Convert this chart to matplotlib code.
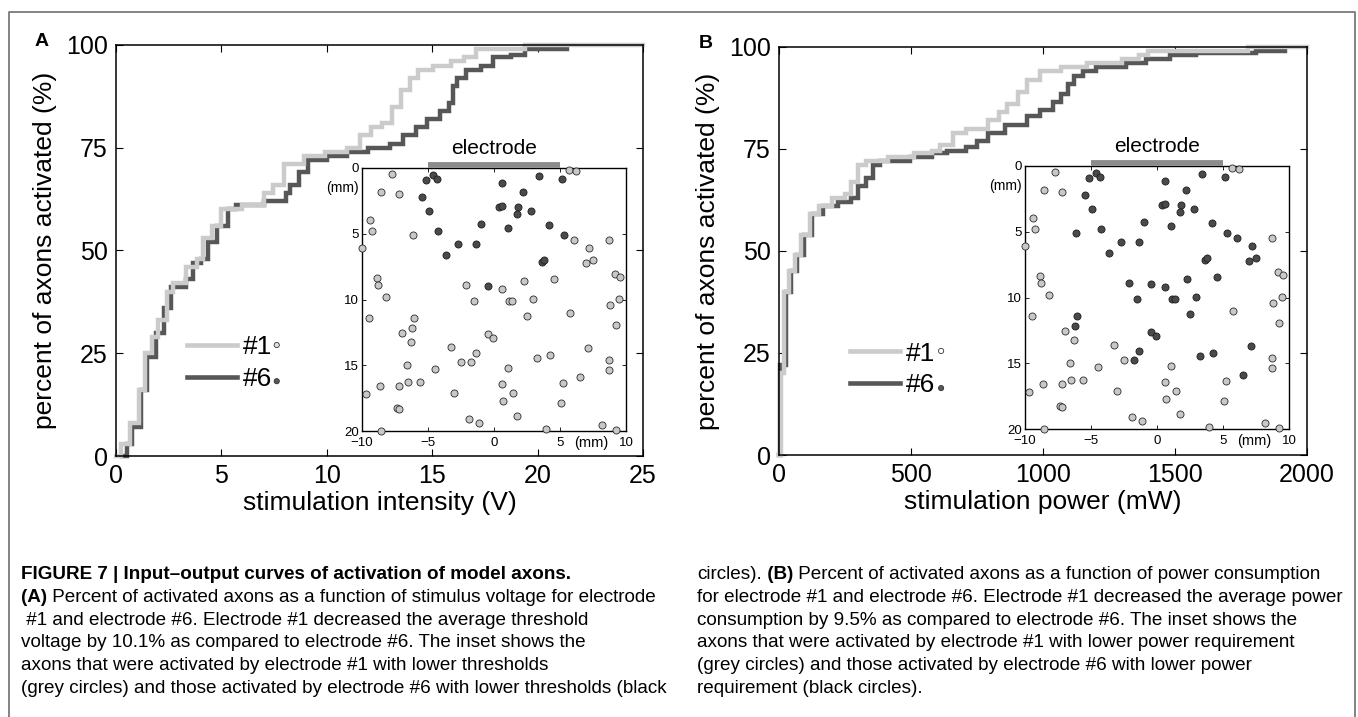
import numpy as np
import matplotlib.pyplot as plt
from matplotlib.lines import Line2D

# ---- data ----
# panel A: % axons activated vs stimulation intensity (V)
volt_e1 = [0.0, 0.25, 0.66, 1.07, 1.38, 1.69, 2.0, 2.4, 2.7, 3.33, 3.85, 4.15, 4.57, 4.98,
           6.0, 7.0, 7.45, 7.96, 8.9, 9.9, 10.95, 11.56, 12.08, 12.6, 13.1, 13.5, 13.93,
           14.34, 15.06, 15.9, 16.5, 17.1, 19.4, 25.0]
pct_volt_e1 = [0, 3, 8, 16, 25, 29, 33, 40, 42, 46, 48, 53, 56, 60,
               61, 64, 66, 71, 73, 74, 75, 78, 80, 81, 85, 89, 92,
               94, 95, 96, 97, 99, 100, 100]
volt_e6 = [0.3, 0.5, 0.76, 1.17, 1.48, 1.89, 2.3, 2.6, 3.33, 3.64, 4.05, 4.36, 4.77, 5.29,
           5.7, 7.04, 8.07, 8.27, 8.7, 9.1, 10.0, 10.95, 11.97, 13.0, 13.6, 14.24, 14.75,
           15.37, 15.78, 15.99, 16.19, 16.6, 17.3, 17.9, 18.75, 19.4, 21.4]
pct_volt_e6 = [0, 3, 7, 16, 24, 30, 36, 41, 43, 47, 48, 52, 56, 60,
               61, 62, 64, 66, 69, 72, 73, 74, 75, 76, 78, 80, 82,
               84, 86, 90, 92, 94, 95, 97, 97.5, 99, 99]

# panel B: % axons activated vs stimulation power (mW)
power_e1 = [0, 6, 20, 36, 61, 85, 118, 151, 200, 249, 274, 299, 331, 413, 512, 578, 610,
            660, 709, 791, 832, 865, 906, 938, 988, 1070, 1168, 1299, 1365, 1398, 1775, 2000]
pct_power_e1 = [0, 20, 40, 45, 49, 54, 59, 61, 63, 64, 67, 71, 72, 73, 74, 74.5, 76,
                79, 80, 82, 84, 86, 89, 92, 94, 95, 96, 97, 98, 99, 100, 100]
power_e6 = [0, 5, 28, 44, 69, 94, 126, 167, 225, 274, 299, 331, 356, 381, 495, 578, 635,
            709, 750, 791, 856, 938, 988, 1037, 1070, 1094, 1119, 1152, 1201, 1316, 1390,
            1480, 1578, 1808, 1915]
pct_power_e6 = [0, 22, 40, 45, 49, 54, 59, 61, 62, 63, 66, 68, 71, 72, 73, 74, 74.5,
                75.5, 77, 79, 81, 83, 84.5, 86.5, 88.5, 91, 93, 94, 95, 96, 97,
                98, 98.5, 99, 99]

# axon positions in the insets (mm), same in both panels
axon_x = [-7.70, -5.12, -4.61, -4.31, -8.53, -7.22, -5.45, -4.92, 0.64, 2.16, 3.43, 5.17,
          5.65, 6.23, 0.37, 0.59, 1.83, 1.71, 2.84, -9.37, -9.22, -6.13, -4.26, -0.95,
          1.07, 4.13, 5.27, 6.06, 8.74, -10.0, -2.72, -1.38, -3.65, 7.19, 7.47, 6.99,
          3.63, 3.75, -8.89, -8.81, -8.20, -2.09, -0.47, 0.62, 2.31, 4.54, 2.92, 1.13,
          1.40, -1.50, 9.17, 9.52, 9.44, 8.81, -9.49, -6.03, -6.21, -6.97, -6.31, 2.52,
          5.78, 9.24, -0.44, -0.04, -3.25, -1.40, -2.49, -1.73, 3.27, 4.21, 7.14, 8.71,
          8.71, -6.56, -4.44, 1.05, -5.58, -6.49, -7.17, -8.66, -9.67, -3.05, 0.64, 1.43,
          0.70, 5.20, 5.04, 6.54, -7.37, -7.19, 1.73, -1.91, -1.15, -8.53, 3.93, 8.18, 9.24]
axon_y = [0.43, 0.89, 0.56, 0.81, 1.83, 2.00, 2.23, 3.24, 1.12, 1.85, 0.61, 0.81,
          0.18, 0.25, 2.94, 2.86, 2.97, 3.47, 3.27, 3.95, 4.77, 5.07, 4.79, 4.26,
          4.59, 4.33, 5.10, 5.45, 5.45, 6.06, 5.80, 5.78, 6.62, 6.06, 7.02, 7.25,
          7.17, 7.02, 8.37, 8.90, 9.78, 8.87, 8.97, 9.23, 8.57, 8.47, 9.96, 10.09,
          10.11, 10.14, 8.04, 8.29, 9.94, 10.39, 11.43, 11.43, 12.17, 12.55, 13.21, 11.25,
          11.03, 11.96, 12.65, 12.90, 13.61, 14.09, 14.75, 14.75, 14.47, 14.22, 13.69, 14.58,
          15.39, 14.96, 15.31, 15.23, 16.25, 16.27, 16.55, 16.55, 17.19, 17.09, 16.45, 17.11,
          17.72, 16.32, 17.85, 15.89, 18.23, 18.30, 18.83, 19.06, 19.39, 20.0, 19.85, 19.54, 19.90]
# indices of axons where electrode #6 needed less (black circles)
e6_better_A = [1, 2, 3, 6, 7, 8, 9, 10, 11, 14, 15, 16, 17, 18, 22, 23, 24, 25, 26,
               30, 31, 32, 36, 37, 42]
e6_better_B = [1, 2, 3, 6, 7, 8, 9, 10, 11, 14, 15, 16, 17, 18, 21, 22, 23, 24, 25, 26, 27,
               30, 31, 32, 33, 34, 35, 36, 37, 41, 42, 43, 44, 45, 46, 47, 48, 49, 55, 56,
               59, 62, 63, 65, 67, 68, 69, 70, 87]
electrode_span = [-5, 5]

LIGHT = '#cbcbcb'
DARK = '#575757'
W, H = 1358, 717

plt.rcParams['font.family'] = ['Liberation Sans', 'DejaVu Sans']
fig = plt.figure(figsize=(W / 100, H / 100), dpi=100)


def box(l, t, r, b):
    return [l / W, 1 - b / H, (r - l) / W, (b - t) / H]


def main_panel(rect, xa, ya, xb, yb, xmax, xticks, xlabel):
    ax = fig.add_axes(rect)
    ax.plot(xb, yb, drawstyle='steps-post', color=DARK, lw=3.2, clip_on=False,
            solid_joinstyle='miter', label='#6')
    ax.plot(xa, ya, drawstyle='steps-post', color=LIGHT, lw=3.2, clip_on=False,
            solid_joinstyle='miter', label='#1')
    ax.set_xlim(0, xmax)
    ax.set_ylim(0, 100)
    ax.set_xticks(xticks)
    ax.set_yticks([0, 25, 50, 75, 100])
    ax.tick_params(direction='in', length=5, width=0.8, top=True, right=True,
                   labelsize=18, pad=6)
    for s in ax.spines.values():
        s.set_linewidth(1.1)
    ax.set_xlabel(xlabel, fontsize=19, labelpad=2)
    ax.set_ylabel('percent of axons activated (%)', fontsize=19, labelpad=6)
    return ax


def legend(ax, yrows, dot_x, fill1):
    h = [Line2D([], [], color=LIGHT, lw=3.3), Line2D([], [], color=DARK, lw=3.3)]
    ax.legend(h, ['#1', '#6'], loc='center left', frameon=False, fontsize=19,
              bbox_to_anchor=(0.135, sum(yrows) / 2), borderpad=0, borderaxespad=0,
              handlelength=1.9, handletextpad=0.2, labelspacing=0.3)
    ax.scatter([dot_x, dot_x], yrows, s=14, c=[fill1, DARK], edgecolors='#333333',
               linewidths=0.6, transform=ax.transAxes, clip_on=False, zorder=5)


def inset(rect, dark_idx):
    ax = fig.add_axes(rect)
    xs = np.array(axon_x)
    ys = np.array(axon_y)
    dark = np.zeros(len(xs), bool)
    dark[dark_idx] = True
    ax.scatter(xs[~dark], ys[~dark], s=26, c='#c8c8c8', edgecolors='#2a2a2a',
               linewidths=0.6, clip_on=False, zorder=3)
    ax.scatter(xs[dark], ys[dark], s=26, c='#4a4a4a', edgecolors='#1e1e1e',
               linewidths=0.6, clip_on=False, zorder=3)
    ax.set_xlim(-10, 10)
    ax.set_ylim(20, 0)
    ax.set_xticks([-10, -5, 0, 5, 10])
    ax.set_xticklabels(['\u221210', '\u22125', '0', '5', '10'])
    ax.set_yticks([0, 5, 10, 15, 20])
    ax.tick_params(direction='in', length=3, width=0.6, top=True, right=True,
                   labelsize=9.5, pad=2)
    ax.tick_params(axis='x', pad=4.5)
    for s in ax.spines.values():
        s.set_linewidth(1.0)
    ax.plot(electrode_span, [-0.2, -0.2], color='#8c8c8c', lw=4.2,
            solid_capstyle='butt', clip_on=False, zorder=4)
    ax.text(0, -0.75, 'electrode', ha='center', va='bottom', fontsize=15)
    ax.text(-0.012, 0.925, '(mm)', transform=ax.transAxes, ha='right', va='center',
            fontsize=10)
    ax.text(0.87, -0.02, '(mm)', transform=ax.transAxes, ha='center', va='top',
            fontsize=10.5)
    return ax


axA = main_panel(box(116, 45, 643, 456), volt_e1, pct_volt_e1, volt_e6, pct_volt_e6,
                 25, [0, 5, 10, 15, 20, 25], 'stimulation intensity (V)')
legend(axA, [0.27, 0.182], 0.305, '#e0e0e0')
inset(box(362, 168, 626, 431), e6_better_A)

axB = main_panel(box(779, 47, 1307, 455), power_e1, pct_power_e1, power_e6, pct_power_e6,
                 2000, [0, 500, 1000, 1500, 2000], 'stimulation power (mW)')
legend(axB, [0.255, 0.164], 0.307, 'white')
inset(box(1025, 166, 1289, 429), e6_better_B)

fig.text(42 / W, 1 - 42 / H, 'A', fontsize=14, fontweight='bold', ha='center', va='center')
fig.text(706 / W, 1 - 44 / H, 'B', fontsize=14, fontweight='bold', ha='center', va='center')

# outer frame
fig.add_artist(Line2D(np.array([9, 9, 1355, 1355]) / W,
                      1 - np.array([730, 12, 12, 730]) / H,
                      transform=fig.transFigure, color='#7a7a7a', lw=1.3))

# caption
renderer = fig.canvas.get_renderer()


def caption_line(x, y, parts, size):
    x = x / W
    for txt, bold in parts:
        t = fig.text(x, 1 - y / H, txt, fontsize=size, va='baseline', ha='left',
                     fontweight='bold' if bold else 'normal')
        x = t.get_window_extent(renderer=renderer).x1 / W


left = [
    [('FIGURE 7 | Input\u2013output curves of activation of model axons.', True)],
    [('(A)', True), (' Percent of activated axons as a function of stimulus voltage for electrode', False)],
    [(' #1 and electrode #6. Electrode #1 decreased the average threshold', False)],
    [('voltage by 10.1% as compared to electrode #6. The inset shows the', False)],
    [('axons that were activated by electrode #1 with lower thresholds', False)],
    [('(grey circles) and those activated by electrode #6 with lower thresholds (black', False)],
]
right = [
    [('circles).', False), (' (B)', True), (' Percent of activated axons as a function of power consumption', False)],
    [('for electrode #1 and electrode #6. Electrode #1 decreased the average power', False)],
    [('consumption by 9.5% as compared to electrode #6. The inset shows the', False)],
    [('axons that were activated by electrode #1 with lower power requirement', False)],
    [('(grey circles) and those activated by electrode #6 with lower power', False)],
    [('requirement (black circles).', False)],
]
for i, parts in enumerate(left):
    caption_line(21, 579 + 22.8 * i, parts, 13.6)
for i, parts in enumerate(right):
    caption_line(697, 579 + 22.8 * i, parts, 13.6)

fig.savefig('out.png', dpi=100)
